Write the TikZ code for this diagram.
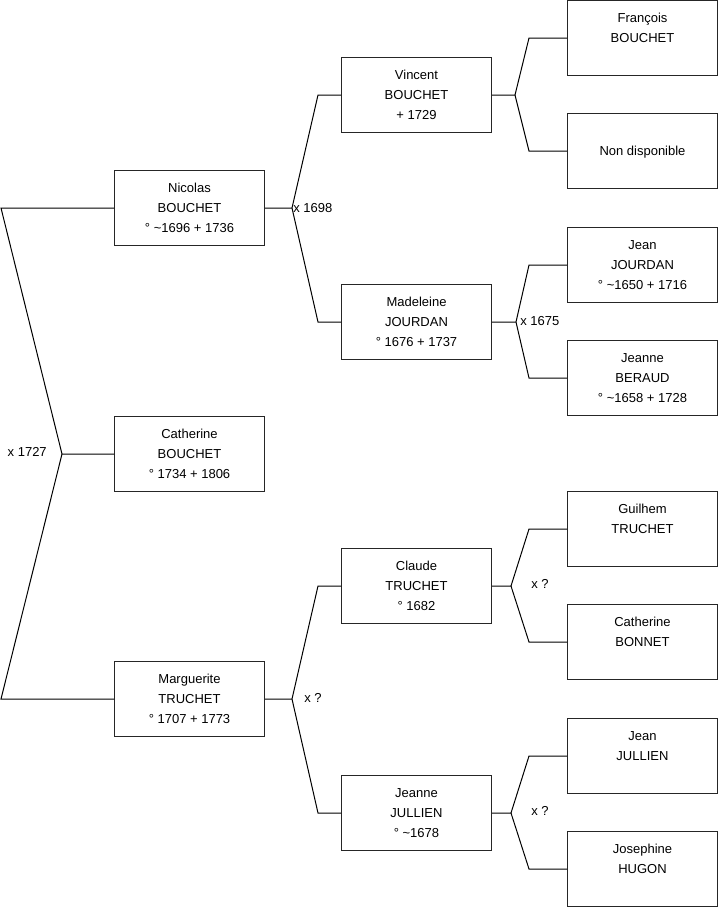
\documentclass[tikz,border=0pt]{standalone}
\usepackage{fontspec}
\setmainfont{Liberation Sans}
\usetikzlibrary{positioning}

\begin{document}
\begin{tikzpicture}[x=0.75pt, y=-0.75pt,
    person/.style={rectangle, draw=black!85, line width=0.75pt, minimum width=112.5pt, minimum height=56.25pt, inner sep=0pt, align=center, font=\fontsize{9.75}{15}\selectfont},
    link/.style={black, line width=0.75pt},
    lbl/.style={inner sep=0pt, font=\fontsize{9.75}{15}\selectfont}
]
\useasboundingbox (0,0) rectangle (719,908);

% generation 1
\node (NB) [person] at (189.5,208) {\strut Nicolas\\BOUCHET\\° \textasciitilde1696 + 1736\strut};
\node (CB) [person] at (189.5,454) {\strut Catherine\\BOUCHET\\° 1734 + 1806\strut};
\node (MT) [person] at (189.5,699) {\strut Marguerite\\TRUCHET\\° 1707 + 1773\strut};

% generation 2
\node (VB) [person] at (416.5,95)  {\strut Vincent\\BOUCHET\\+ 1729\strut};
\node (MJ) [person] at (416.5,322) {\strut Madeleine\\JOURDAN\\° 1676 + 1737\strut};
\node (CT) [person] at (416.5,586) {\strut Claude\\TRUCHET\\° 1682\strut};
\node (JJ) [person] at (416.5,813) {\strut Jeanne\\JULLIEN\\° \textasciitilde1678\strut};

% generation 3
\node (FB)  [person] at (642.5,38)  {\strut François\\BOUCHET\\\strut};
\node (ND)  [person] at (642.5,151) {\strut\\Non disponible\\\strut};
\node (JJO) [person] at (642.5,265) {\strut Jean\\JOURDAN\\° \textasciitilde1650 + 1716\strut};
\node (JBE) [person] at (642.5,378) {\strut Jeanne\\BERAUD\\° \textasciitilde1658 + 1728\strut};
\node (GT)  [person] at (642.5,529) {\strut Guilhem\\TRUCHET\\\strut};
\node (CBO) [person] at (642.5,642) {\strut Catherine\\BONNET\\\strut};
\node (JJU) [person] at (642.5,756) {\strut Jean\\JULLIEN\\\strut};
\node (JH)  [person] at (642.5,869) {\strut Josephine\\HUGON\\\strut};

% forks
\coordinate (f0) at (62,454);  \coordinate (f0a) at (1,208);   \coordinate (f0b) at (1,699);
\coordinate (f1) at (292,208); \coordinate (f1a) at (318,95);  \coordinate (f1b) at (318,322);
\coordinate (f2) at (515,95);  \coordinate (f2a) at (529,38);  \coordinate (f2b) at (529,151);
\coordinate (f3) at (516,322); \coordinate (f3a) at (529,265); \coordinate (f3b) at (529,378);
\coordinate (f4) at (292,699); \coordinate (f4a) at (318,586); \coordinate (f4b) at (318,813);
\coordinate (f5) at (511,586); \coordinate (f5a) at (529,529); \coordinate (f5b) at (529,642);
\coordinate (f6) at (511,813); \coordinate (f6a) at (529,756); \coordinate (f6b) at (529,869);

\draw [link] (CB.west) -- (f0) -- (f0a) -- (NB.west);
\draw [link] (f0) -- (f0b) -- (MT.west);
\draw [link] (NB.east) -- (f1) -- (f1a) -- (VB.west);
\draw [link] (f1) -- (f1b) -- (MJ.west);
\draw [link] (VB.east) -- (f2) -- (f2a) -- (FB.west);
\draw [link] (f2) -- (f2b) -- (ND.west);
\draw [link] (MJ.east) -- (f3) -- (f3a) -- (JJO.west);
\draw [link] (f3) -- (f3b) -- (JBE.west);
\draw [link] (MT.east) -- (f4) -- (f4a) -- (CT.west);
\draw [link] (f4) -- (f4b) -- (JJ.west);
\draw [link] (CT.east) -- (f5) -- (f5a) -- (GT.west);
\draw [link] (f5) -- (f5b) -- (CBO.west);
\draw [link] (JJ.east) -- (f6) -- (f6a) -- (JJU.west);
\draw [link] (f6) -- (f6b) -- (JH.west);

% marriages
\node (m0) [lbl, anchor=east] at (47,452)  {x 1727};
\node (m1) [lbl, anchor=west] at (293,208) {x 1698};
\node (m3) [lbl, anchor=west] at (520,321) {x 1675};
\node (m4) [lbl, anchor=west] at (304,698) {x ?};
\node (m5) [lbl, anchor=west] at (531,584) {x ?};
\node (m6) [lbl, anchor=west] at (531,811) {x ?};

\end{tikzpicture}
\end{document}
